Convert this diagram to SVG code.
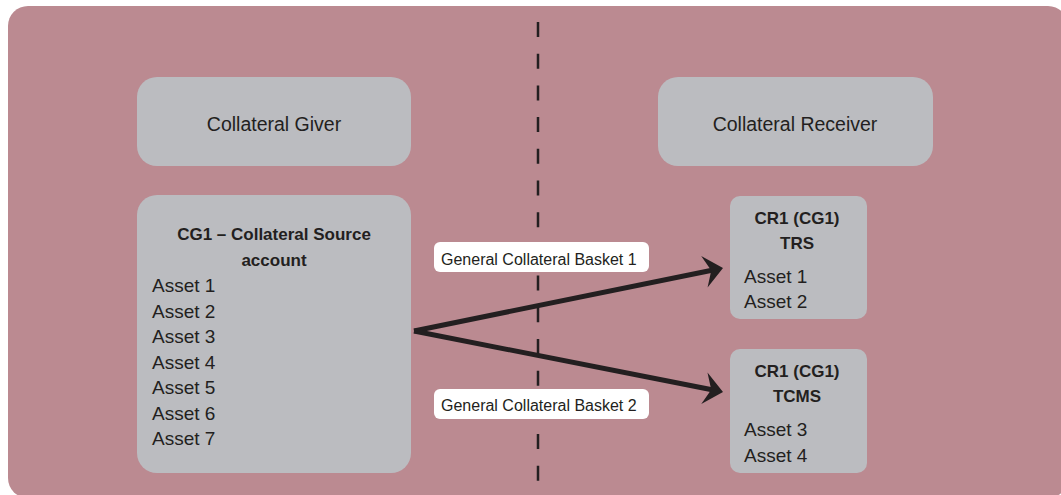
<svg xmlns="http://www.w3.org/2000/svg" width="1061" height="495" viewBox="0 0 1061 495">
<style>
.box{fill:#bbbcc0}
.lbl{fill:#ffffff}
.t{font-family:"Liberation Sans",Arial,sans-serif;fill:#231f20}
.h{font-size:19.5px;text-anchor:middle}
.b{font-size:17px;font-weight:bold;text-anchor:middle}
.a{font-size:19px}
.l{font-size:16px}
.conn{stroke:#231f20;stroke-width:5;fill:none}
.head{fill:#231f20}
</style>
<rect x="8" y="6" width="1060" height="492" rx="20" fill="#bb8a91"/>
<line x1="538" y1="22" x2="538" y2="486" stroke="#231f20" stroke-width="2.5" stroke-dasharray="15 16.7"/>
<g id="giver">
<rect class="box" x="137" y="77" width="274" height="89" rx="20"/>
<text class="t h" x="274" y="131">Collateral Giver</text>
</g>
<g id="receiver">
<rect class="box" x="658" y="77" width="275" height="89" rx="20"/>
<text class="t h" x="795" y="131">Collateral Receiver</text>
</g>
<g id="cg1">
<rect class="box" x="137" y="195" width="274" height="278" rx="20"/>
<text class="t b" x="274" y="240">CG1 – Collateral Source</text>
<text class="t b" x="274" y="266">account</text>
<text class="t a" x="152" y="292">Asset 1</text>
<text class="t a" x="152" y="317.5">Asset 2</text>
<text class="t a" x="152" y="343">Asset 3</text>
<text class="t a" x="152" y="368.5">Asset 4</text>
<text class="t a" x="152" y="394">Asset 5</text>
<text class="t a" x="152" y="419.5">Asset 6</text>
<text class="t a" x="152" y="445">Asset 7</text>
</g>
<g id="trs">
<rect class="box" x="730" y="196" width="137" height="123" rx="10"/>
<text class="t b" x="797" y="224">CR1 (CG1)</text>
<text class="t b" x="797" y="249">TRS</text>
<text class="t a" x="744" y="283">Asset 1</text>
<text class="t a" x="744" y="308">Asset 2</text>
</g>
<g id="tcms">
<rect class="box" x="730" y="349" width="137" height="124" rx="10"/>
<text class="t b" x="797" y="377">CR1 (CG1)</text>
<text class="t b" x="797" y="402">TCMS</text>
<text class="t a" x="744" y="436">Asset 3</text>
<text class="t a" x="744" y="462">Asset 4</text>
</g>
<g id="connectors">
<path class="conn" d="M414,331 L712,270.2"/>
<path class="conn" d="M414,331 L712,389.8"/>
<path class="head" transform="translate(723,268) rotate(-11.5)" d="M0,0 L-19,-16 L-12,0 L-19,16 z"/>
<path class="head" transform="translate(723,392) rotate(11.2)" d="M0,0 L-19,-16 L-12,0 L-19,16 z"/>
</g>
<g id="label1">
<rect class="lbl" x="434" y="242" width="215" height="30" rx="6"/>
<text class="t l" x="441" y="265">General Collateral Basket 1</text>
</g>
<g id="label2">
<rect class="lbl" x="434" y="389" width="215" height="30" rx="6"/>
<text class="t l" x="441" y="411">General Collateral Basket 2</text>
</g>
</svg>
